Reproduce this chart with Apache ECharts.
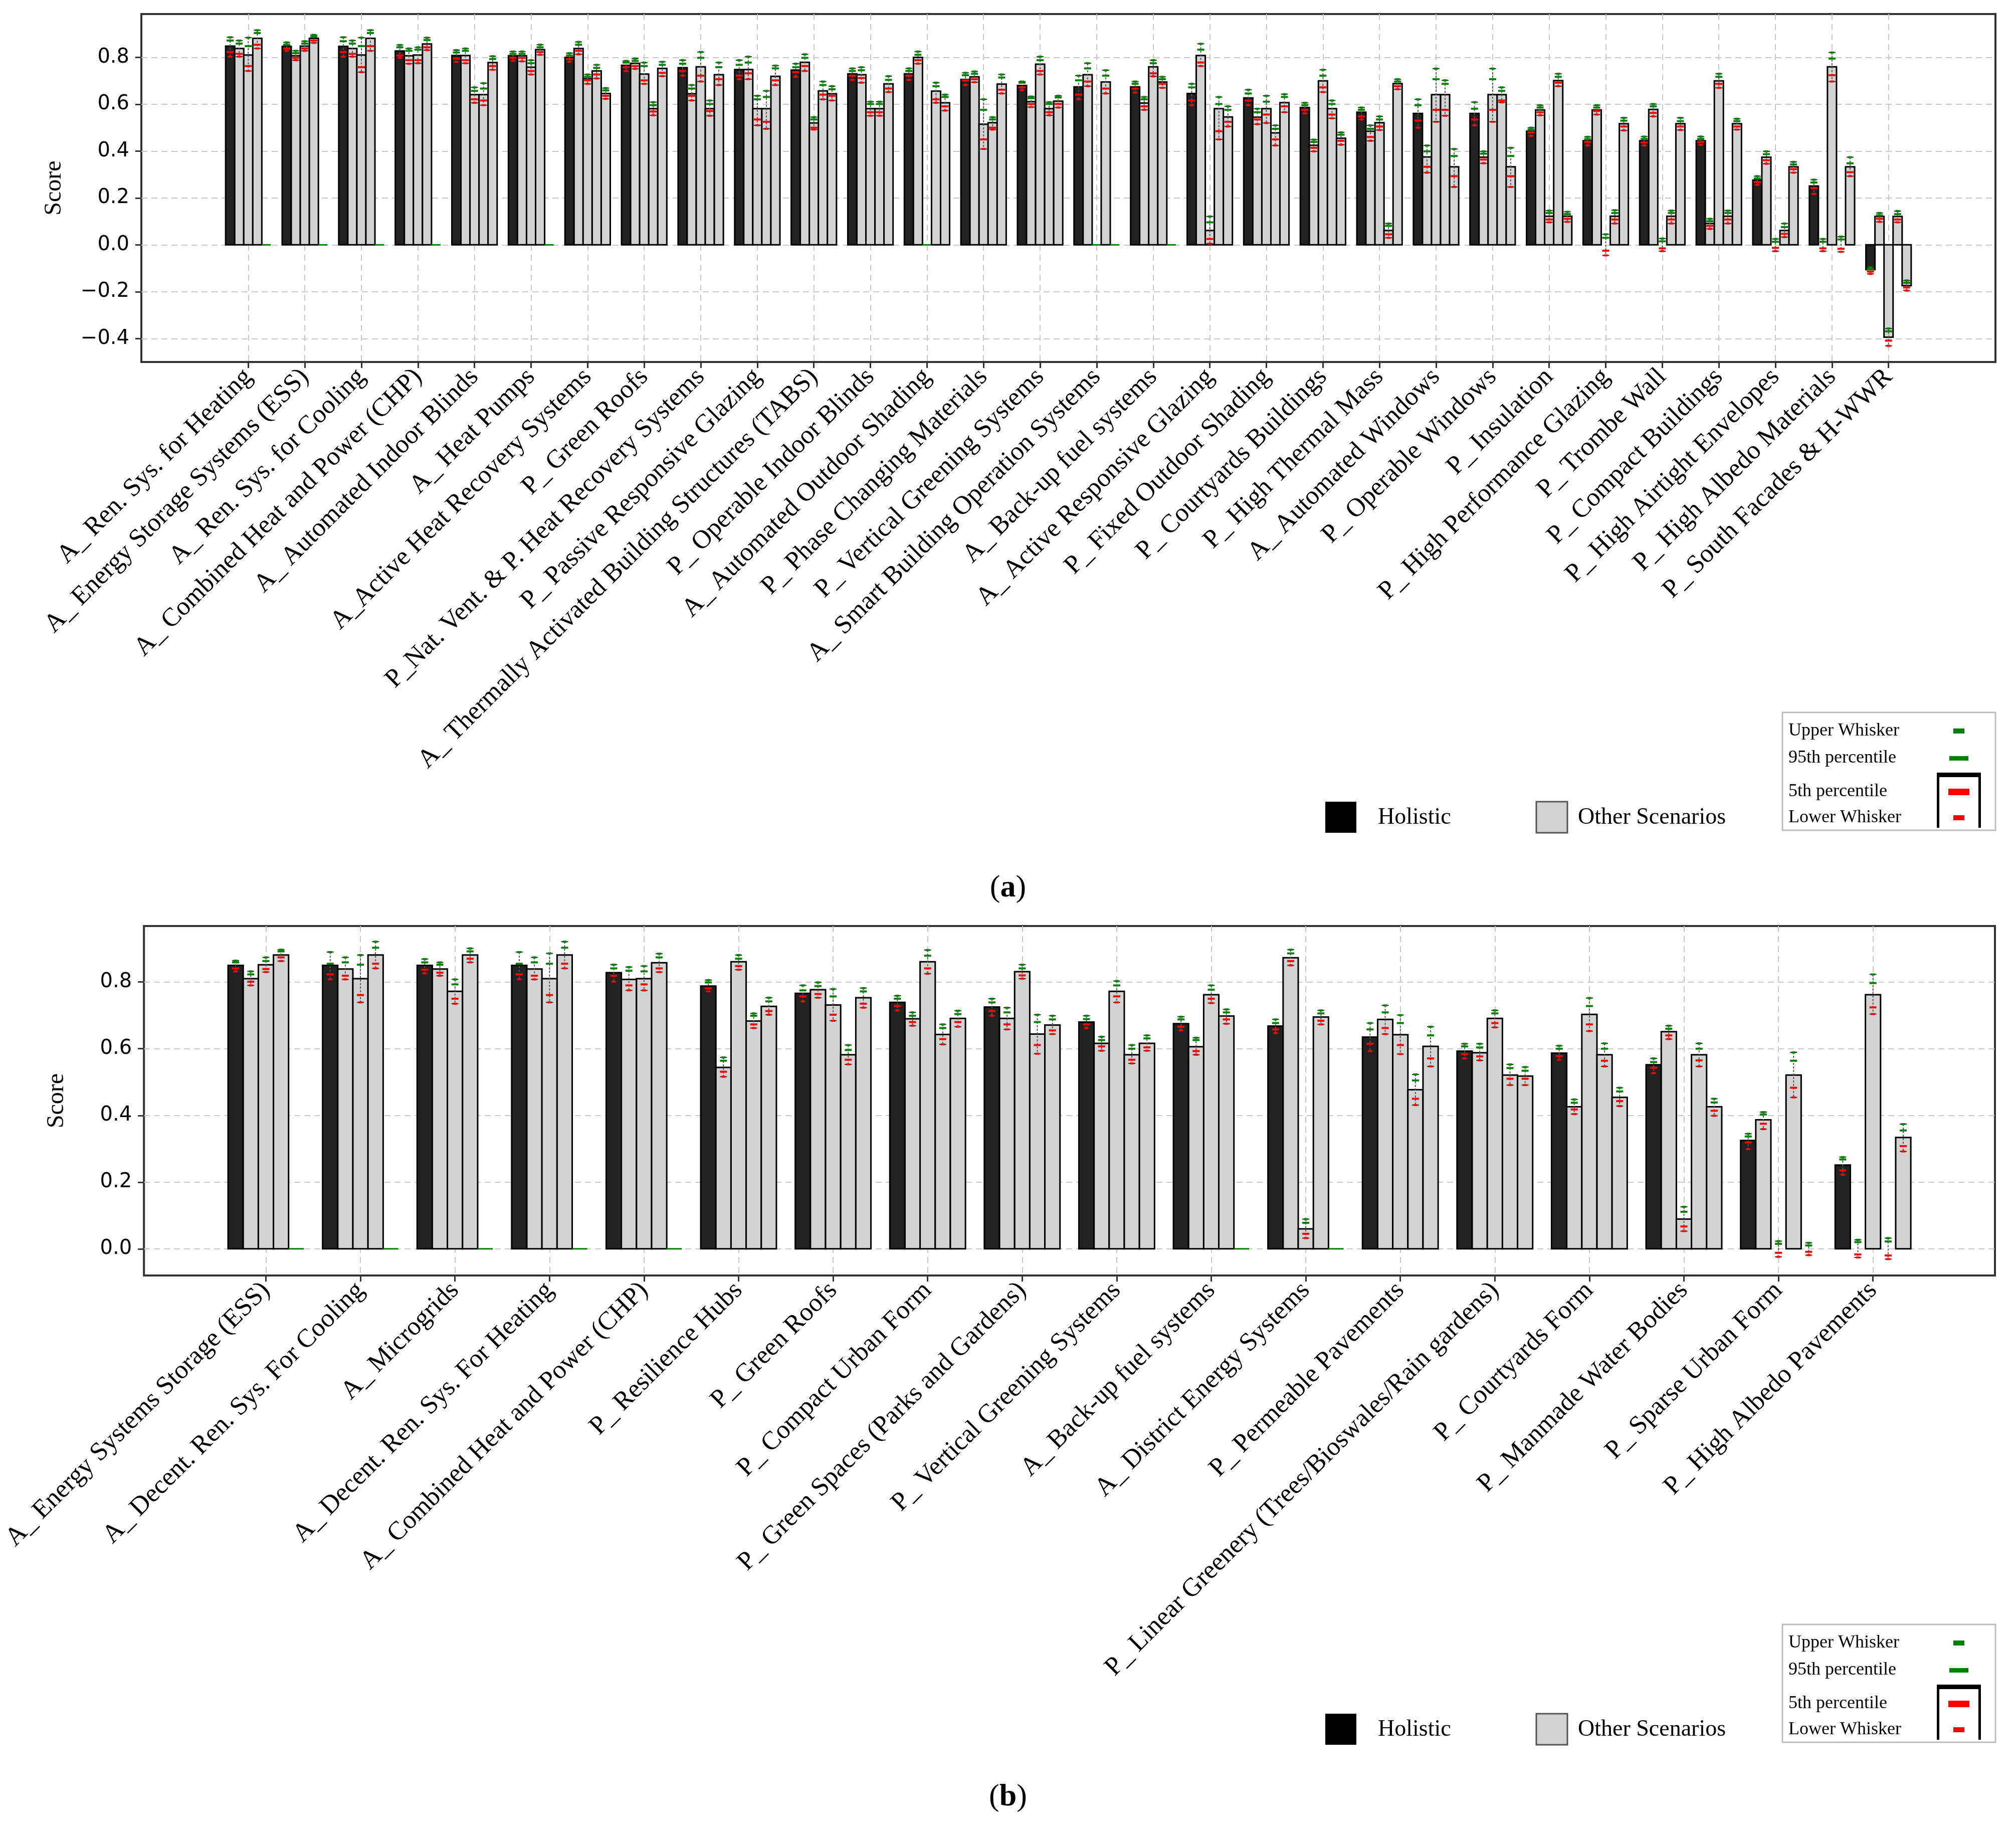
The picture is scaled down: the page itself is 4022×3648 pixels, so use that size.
<!DOCTYPE html>
<html><head><meta charset="utf-8">
<script src="https://cdn.jsdelivr.net/npm/echarts@6/dist/echarts.min.js"></script>
<style>html,body{margin:0;padding:0;background:#fff}#c{width:4022px;height:3648px}</style>
</head><body><div id="c"></div>
<script>
// ---------------- Panel (a) data ----------------
const categoriesA = ['A_ Ren. Sys. for Heating','A_ Energy Storage Systems (ESS)','A_ Ren. Sys. for Cooling','A_ Combined Heat and Power (CHP)','A_ Automated Indoor Blinds','A_ Heat Pumps','A_Active Heat Recovery Systems','P_ Green Roofs','P_Nat. Vent. & P. Heat Recovery Systems','P_ Passive Responsive Glazing','A_ Thermally Activated Building Structures (TABS)','P_ Operable Indoor Blinds','A_ Automated Outdoor Shading','P_ Phase Changing Materials','P_ Vertical Greening Systems','A_ Smart Building Operation Systems','A_ Back-up fuel systems','A_ Active Responsive Glazing','P_ Fixed Outdoor Shading','P_ Courtyards Buildings','P_ High Thermal Mass','A_ Automated Windows','P_ Operable Windows','P_ Insulation','P_ High Performance Glazing','P_ Trombe Wall','P_ Compact Buildings','P_ High Airtight Envelopes','P_ High Albedo Materials','P_ South Facades & H-WWR'];
const holisticA = [0.848,0.847,0.847,0.827,0.808,0.807,0.800,0.766,0.756,0.748,0.746,0.730,0.730,0.706,0.680,0.674,0.674,0.646,0.627,0.586,0.566,0.561,0.561,0.485,0.444,0.444,0.444,0.276,0.251,-0.106];
const otherA1 = [0.838,0.807,0.838,0.807,0.808,0.807,0.838,0.775,0.645,0.748,0.779,0.726,0.800,0.717,0.611,0.726,0.605,0.808,0.545,0.425,0.485,0.375,0.374,0.576,0.576,0.578,0.091,0.374,0,0.121];
const otherA2 = [0.810,0.848,0.810,0.810,0.641,0.758,0.709,0.729,0.760,0.581,0.520,0.581,null,0.515,0.771,null,0.760,0.061,0.581,0.700,0.521,0.641,0.641,0.122,0,0,0.700,0,0.760,-0.394];
const otherA3 = [0.881,0.881,0.881,0.857,0.641,0.833,0.742,0.581,0.581,0.581,0.657,0.581,0.656,0.521,0.581,0.695,0.695,0.581,0.478,0.581,0.061,0.641,0.641,0.701,0.122,0.122,0.122,0.061,0,0.121];
const otherA4 = [null,null,null,null,0.778,null,0.646,0.753,0.726,0.719,0.645,0.687,0.606,0.686,0.613,null,null,0.546,0.607,0.455,0.688,0.333,0.333,0.122,0.517,0.517,0.517,0.333,0.333,-0.174];
// [upper whisker, 95th pct, 5th pct, lower whisker]
const whiskHolisticA = [[0.886,0.872,0.823,0.803],[0.864,0.854,0.838,0.828],[0.886,0.869,0.823,0.803],[0.853,0.843,0.808,0.798],[0.831,0.821,0.795,0.781],[0.825,0.815,0.798,0.785],[0.818,0.808,0.793,0.781],[0.785,0.778,0.758,0.742],[0.788,0.773,0.742,0.722],[0.788,0.768,0.722,0.707],[0.773,0.758,0.737,0.717],[0.753,0.742,0.722,0.704],[0.753,0.742,0.722,0.704],[0.734,0.724,0.702,0.682],[0.697,0.692,0.672,0.660],[0.722,0.702,0.641,0.621],[0.697,0.687,0.667,0.650],[0.687,0.672,0.616,0.596],[0.662,0.646,0.616,0.596],[0.606,0.596,0.576,0.561],[0.586,0.576,0.548,0.535],[0.621,0.596,0.530,0.500],[0.609,0.581,0.535,0.510],[0.500,0.492,0.480,0.465],[0.461,0.451,0.439,0.424],[0.462,0.452,0.437,0.424],[0.462,0.452,0.439,0.427],[0.293,0.283,0.268,0.256],[0.278,0.266,0.242,0.217],[-0.096,-0.104,-0.114,-0.124]];
const whiskOtherA1 = [[0.872,0.859,0.815,0.803],[0.828,0.818,0.798,0.788],[0.872,0.859,0.815,0.803],[0.838,0.828,0.788,0.773],[0.838,0.828,0.788,0.775],[0.825,0.815,0.798,0.783],[0.866,0.854,0.828,0.813],[0.795,0.785,0.763,0.751],[0.682,0.667,0.636,0.616],[0.803,0.778,0.732,0.707],[0.813,0.798,0.763,0.742],[0.758,0.745,0.712,0.692],[0.825,0.811,0.788,0.773],[0.740,0.730,0.707,0.694],[0.633,0.626,0.601,0.588],[0.775,0.753,0.697,0.677],[0.631,0.621,0.591,0.576],[0.858,0.833,0.778,0.763],[0.581,0.566,0.535,0.515],[0.449,0.439,0.414,0.399],[0.510,0.495,0.460,0.444],[0.424,0.399,0.333,0.308],[0.399,0.389,0.364,0.348],[0.596,0.586,0.566,0.553],[0.596,0.586,0.571,0.556],[0.601,0.591,0.563,0.548],[0.111,0.101,0.081,0.068],[0.399,0.387,0.361,0.346],[0.025,0.013,-0.015,-0.027],[0.136,0.126,0.111,0.098]];
const whiskOtherA2 = [[0.884,0.848,0.763,0.742],[0.869,0.859,0.838,0.828],[0.884,0.848,0.758,0.737],[0.843,0.833,0.788,0.775],[0.672,0.657,0.621,0.606],[0.788,0.775,0.742,0.727],[0.727,0.717,0.702,0.687],[0.778,0.763,0.702,0.687],[0.823,0.798,0.722,0.697],[0.636,0.621,0.535,0.510],[0.545,0.535,0.500,0.492],[0.611,0.601,0.566,0.551],null,[0.621,0.576,0.450,0.409],[0.803,0.788,0.742,0.727],null,[0.788,0.775,0.732,0.719],[0.121,0.096,0.025,0.005],[0.636,0.611,0.556,0.520],[0.747,0.722,0.672,0.652],[0.548,0.535,0.505,0.490],[0.752,0.707,0.576,0.525],[0.752,0.707,0.576,0.525],[0.146,0.136,0.108,0.096],[0.045,0.030,-0.025,-0.045],[0.027,0.015,-0.015,-0.027],[0.730,0.717,0.687,0.670],[0.025,0.013,-0.013,-0.027],[0.821,0.795,0.724,0.697],[-0.357,-0.369,-0.409,-0.431]];
const whiskOtherA3 = [[0.916,0.904,0.854,0.838],[0.896,0.889,0.872,0.862],[0.916,0.904,0.848,0.828],[0.884,0.874,0.843,0.831],[0.690,0.667,0.616,0.596],[0.854,0.843,0.823,0.811],[0.768,0.755,0.727,0.710],[0.609,0.596,0.569,0.553],[0.616,0.601,0.571,0.551],[0.657,0.631,0.525,0.495],[0.697,0.682,0.641,0.621],[0.611,0.601,0.566,0.551],[0.692,0.677,0.621,0.606],[0.545,0.535,0.500,0.492],[0.609,0.601,0.566,0.553],[0.745,0.722,0.667,0.646],[0.717,0.707,0.687,0.670],[0.631,0.601,0.485,0.450],[0.510,0.495,0.450,0.424],[0.616,0.601,0.556,0.540],[0.091,0.081,0.045,0.030],[0.702,0.687,0.576,0.551],[0.672,0.657,0.616,0.608],[0.730,0.717,0.692,0.677],[0.148,0.136,0.108,0.091],[0.146,0.136,0.108,0.091],[0.146,0.136,0.108,0.091],[0.091,0.076,0.047,0.033],[0.035,0.023,-0.017,-0.030],[0.144,0.131,0.108,0.096]];
const whiskOtherA4 = [null,null,null,null,[0.805,0.793,0.763,0.747],null,[0.669,0.659,0.636,0.623],[0.781,0.768,0.734,0.720],[0.778,0.758,0.707,0.682],[0.765,0.753,0.702,0.682],[0.677,0.664,0.636,0.616],[0.720,0.704,0.667,0.652],[0.641,0.631,0.591,0.573],[0.727,0.714,0.662,0.646],[0.636,0.629,0.601,0.586],null,null,[0.591,0.576,0.525,0.505],[0.643,0.631,0.591,0.566],[0.480,0.470,0.444,0.427],[0.707,0.697,0.677,0.664],[0.409,0.379,0.293,0.247],[0.414,0.379,0.293,0.247],[0.141,0.131,0.111,0.098],[0.542,0.530,0.505,0.488],[0.542,0.528,0.505,0.490],[0.538,0.528,0.505,0.492],[0.354,0.343,0.323,0.308],[0.374,0.348,0.310,0.293],[-0.152,-0.162,-0.182,-0.195]];
const yTicksA = [-0.4,-0.2,0.0,0.2,0.4,0.6,0.8];

// ---------------- Panel (b) data ----------------
const categoriesB = ['A_ Energy Systems Storage (ESS)','A_ Decent. Ren. Sys. For Cooling','A_ Microgrids','A_ Decent. Ren. Sys. For Heating','A_ Combined Heat and Power (CHP)','P_ Resilience Hubs','P_ Green Roofs','P_ Compact Urban Form','P_ Green Spaces (Parks and Gardens)','P_ Vertical Greening Systems','A_ Back-up fuel systems','A_ District Energy Systems','P_ Permeable Pavements','P_ Linear Greenery (Trees/Bioswales/Rain gardens)','P_ Courtyards Form','P_ Manmade Water Bodies','P_ Sparse Urban Form','P_ High Albedo Pavements'];
const holisticB = [0.850,0.850,0.850,0.850,0.828,0.788,0.766,0.739,0.725,0.680,0.675,0.668,0.635,0.593,0.587,0.552,0.325,0.251];
const otherB1 = [0.810,0.839,0.839,0.839,0.808,0.544,0.777,0.690,0.691,0.616,0.606,0.873,0.688,0.588,0.426,0.651,0.387,0];
const otherB2 = [0.852,0.810,0.772,0.810,0.810,0.861,0.731,0.861,0.831,0.772,0.762,0.060,0.642,0.691,0.703,0.089,0,0.762];
const otherB3 = [0.881,0.881,0.881,0.881,0.858,0.683,0.582,0.643,0.644,0.582,0.698,0.695,0.477,0.521,0.582,0.582,0.521,0];
const otherB4 = [null,null,null,null,null,0.727,0.753,0.691,0.671,0.616,null,null,0.607,0.518,0.454,0.426,0,0.334];
const whiskHolisticB = [[0.864,0.859,0.841,0.832],[0.890,0.855,0.823,0.808],[0.869,0.859,0.837,0.826],[0.890,0.855,0.823,0.808],[0.852,0.841,0.819,0.801],[0.806,0.799,0.781,0.772],[0.790,0.775,0.757,0.742],[0.759,0.750,0.728,0.715],[0.750,0.739,0.713,0.699],[0.699,0.689,0.673,0.662],[0.696,0.688,0.666,0.655],[0.688,0.677,0.658,0.647],[0.677,0.658,0.615,0.593],[0.615,0.607,0.584,0.571],[0.609,0.600,0.578,0.567],[0.571,0.560,0.543,0.527],[0.345,0.337,0.319,0.299],[0.275,0.268,0.235,0.222]];
const whiskOtherB1 = [[0.832,0.823,0.801,0.790],[0.874,0.859,0.819,0.808],[0.859,0.852,0.828,0.819],[0.874,0.859,0.819,0.808],[0.845,0.834,0.790,0.775],[0.574,0.564,0.531,0.516],[0.799,0.788,0.764,0.753],[0.709,0.699,0.680,0.669],[0.723,0.709,0.673,0.658],[0.636,0.626,0.607,0.594],[0.633,0.626,0.593,0.582],[0.897,0.886,0.863,0.850],[0.730,0.709,0.662,0.644],[0.615,0.604,0.577,0.565],[0.448,0.438,0.418,0.404],[0.669,0.660,0.640,0.629],[0.410,0.403,0.375,0.359],[0.027,0.020,-0.017,-0.026]];
const whiskOtherB2 = [[0.874,0.863,0.839,0.830],[0.881,0.852,0.761,0.739],[0.808,0.793,0.750,0.735],[0.886,0.855,0.761,0.739],[0.848,0.832,0.793,0.775],[0.881,0.870,0.848,0.837],[0.779,0.757,0.702,0.684],[0.896,0.879,0.841,0.825],[0.852,0.841,0.820,0.810],[0.803,0.790,0.757,0.739],[0.790,0.777,0.750,0.737],[0.089,0.078,0.045,0.032],[0.701,0.677,0.611,0.584],[0.715,0.706,0.677,0.664],[0.752,0.728,0.673,0.653],[0.126,0.111,0.067,0.053],[0.023,0.015,-0.012,-0.024],[0.823,0.797,0.724,0.704]];
const whiskOtherB3 = [[0.897,0.892,0.874,0.863],[0.921,0.903,0.855,0.841],[0.901,0.892,0.870,0.859],[0.921,0.903,0.855,0.841],[0.885,0.874,0.841,0.830],[0.706,0.699,0.673,0.662],[0.611,0.596,0.567,0.553],[0.673,0.662,0.629,0.613],[0.702,0.680,0.611,0.585],[0.611,0.600,0.567,0.556],[0.718,0.709,0.688,0.675],[0.715,0.706,0.684,0.673],[0.523,0.505,0.450,0.431],[0.553,0.542,0.510,0.491],[0.616,0.600,0.564,0.547],[0.616,0.600,0.565,0.547],[0.589,0.564,0.483,0.454],[0.032,0.022,-0.020,-0.031]];
const whiskOtherB4 = [null,null,null,null,null,[0.753,0.742,0.713,0.702],[0.782,0.772,0.735,0.723],[0.714,0.704,0.680,0.666],[0.699,0.688,0.655,0.644],[0.640,0.631,0.604,0.594],null,null,[0.666,0.640,0.571,0.547],[0.545,0.534,0.510,0.491],[0.483,0.472,0.443,0.428],[0.450,0.439,0.414,0.399],[0.018,0.010,-0.009,-0.019],[0.374,0.355,0.308,0.292]];
const yTicksB = [0.0,0.2,0.4,0.6,0.8];

// ---------------- styling / layout ----------------
const FONT = '"Liberation Serif", "Times New Roman", serif';
const SANS = '"DejaVu Sans", sans-serif';
const GREEN = '#008000', RED = '#ff0000';
const SLOT = 0.16;              // width of one bar in category units (5 bars = 0.8)
const HOLI_FILL = '#222222', OTHER_FILL = '#d3d3d3';

function xPad(n) { return 0.4 + 0.05 * (n - 1 + 0.8); } // matplotlib-like 5% margins

function barSeries(xi, yi, vals, whisk, slot, fill) {
  const data = vals.map((v, i) => {
    const e = whisk[i];
    return (v == null) ? [i, 0, 1, 0, 0, 0, 0] : [i, v, 0, e[0], e[1], e[2], e[3]];
  });
  return {
    type: 'custom', xAxisIndex: xi, yAxisIndex: yi, data: data,
    encode: { x: 0, y: 1 }, z: 3, silent: true,
    renderItem: function (params, api) {
      const i = api.value(0), v = api.value(1), isNull = api.value(2);
      const xc = i + (slot - 2) * SLOT;
      const base = api.coord([xc, 0]);
      const top = api.coord([xc, v]);
      const w = api.size([SLOT, 0])[0];
      const cx = base[0];
      const ch = [];
      if (isNull) {
        ch.push({ type: 'line', shape: { x1: cx - w / 2, y1: base[1], x2: cx + w / 2, y2: base[1] }, style: { stroke: GREEN, lineWidth: 3 } });
        return { type: 'group', children: ch };
      }
      const h = top[1] - base[1];
      if (Math.abs(h) > 0.5) {
        ch.push({ type: 'rect', shape: { x: cx - w / 2, y: Math.min(base[1], top[1]), width: w, height: Math.abs(h) }, style: { fill: fill, stroke: '#000', lineWidth: 3 } });
      }
      const yu = api.coord([xc, api.value(3)])[1];
      const y95 = api.coord([xc, api.value(4)])[1];
      const y5 = api.coord([xc, api.value(5)])[1];
      const yl = api.coord([xc, api.value(6)])[1];
      const mk = (y, half, color, lw) => ({ type: 'line', shape: { x1: cx - half, y1: y, x2: cx + half, y2: y }, style: { stroke: color, lineWidth: lw } });
      ch.push({ type: 'line', shape: { x1: cx, y1: yu, x2: cx, y2: yl }, style: { stroke: '#555', lineWidth: 2, lineDash: [4, 3] } });
      ch.push(mk(yu, 7, '#333', 2), mk(yl, 7, '#333', 2));
      ch.push(mk(yu, 4, GREEN, 4), mk(y95, 7, GREEN, 4), mk(y5, 7, RED, 4), mk(yl, 4, RED, 4));
      return { type: 'group', children: ch };
    }
  };
}

const gridLine = { show: true, lineStyle: { color: '#c8c8c8', type: [12, 8], width: 2 } };
function fmtY(v) { const s = Math.abs(v).toFixed(1); return v < -1e-9 ? '\u2212' + s : s; }

function xAxisFor(gi, cats) {
  const n = cats.length, p = xPad(n), idx = cats.map((c, i) => i);
  return {
    gridIndex: gi, type: 'value', min: -p, max: n - 1 + p,
    axisLine: { show: false, onZero: false },
    axisTick: { show: true, inside: false, length: 12, customValues: idx, lineStyle: { color: '#333', width: 3 } },
    axisLabel: { customValues: idx, rotate: 45, margin: 22, formatter: v => cats[Math.round(v)], fontSize: 52, fontFamily: FONT, color: '#000' },
    splitLine: gridLine
  };
}
function yAxisFor(gi, ymin, ymax, ticks) {
  return {
    gridIndex: gi, type: 'value', min: ymin, max: ymax,
    name: 'Score', nameLocation: 'middle', nameRotate: 90, nameGap: 150,
    nameTextStyle: { fontSize: 48, fontFamily: FONT, color: '#000' },
    axisLine: { show: false, onZero: false },
    axisTick: { show: true, inside: false, length: 12, customValues: ticks, lineStyle: { color: '#333', width: 3 } },
    axisLabel: { customValues: ticks, formatter: fmtY, margin: 24, fontSize: 40, fontFamily: SANS, color: '#000' },
    splitLine: gridLine
  };
}

function legendGraphics(dy) {
  const t = (x, y, text, size) => ({ type: 'text', x: x, y: y + dy, style: { text: text, fontSize: size, fontFamily: FONT, fill: '#000', verticalAlign: 'middle', textVerticalAlign: 'middle' } });
  const r = (x, y, w, h, fill, stroke, lw) => ({ type: 'rect', shape: { x: x, y: y + dy, width: w, height: h }, style: { fill: fill, stroke: stroke || null, lineWidth: lw || 0 } });
  return [
    r(2644, 1599, 62, 62, '#000'),
    t(2749, 1631, 'Holistic', 46),
    r(3065, 1599, 62, 62, '#d3d3d3', '#555', 3),
    t(3148, 1631, 'Other Scenarios', 46),
    r(3556, 1421, 425, 235, '#fff', '#bdbdbd', 3),
    t(3568, 1458, 'Upper Whisker', 36),
    t(3568, 1512, '95th percentile', 36),
    t(3568, 1579, '5th percentile', 36),
    t(3568, 1631, 'Lower Whisker', 36),
    r(3897, 1453, 22, 10, GREEN),
    r(3889, 1508, 38, 9, GREEN),
    r(3887, 1573, 42, 13, RED),
    r(3897, 1626, 22, 10, RED),
    r(3864, 1541, 88, 9, '#000'),
    r(3864, 1541, 5, 110, '#000'),
    r(3947, 1541, 5, 110, '#000')
  ];
}
function panelLabel(letter, y) {
  return { type: 'text', x: 2011, y: y, style: { text: '{n|(}{b|' + letter + '}{n|)}', align: 'center', verticalAlign: 'middle', textAlign: 'center', textVerticalAlign: 'middle',
    rich: { n: { fontSize: 62, fontFamily: FONT, fill: '#000' }, b: { fontSize: 62, fontFamily: FONT, fontWeight: 'bold', fill: '#000' } } } };
}

const chart = echarts.init(document.getElementById('c'), null, { renderer: 'canvas' });
chart.setOption({
  backgroundColor: '#fff',
  animation: false,
  grid: [
    { left: 282, top: 28, width: 3699, height: 694, show: true, borderColor: '#333', borderWidth: 4, containLabel: false },
    { left: 285, top: 1847, width: 3695, height: 697, show: true, borderColor: '#333', borderWidth: 4, containLabel: false }
  ],
  xAxis: [xAxisFor(0, categoriesA), xAxisFor(1, categoriesB)],
  yAxis: [yAxisFor(0, -0.5, 0.985, yTicksA), yAxisFor(1, -0.08, 0.968, yTicksB)],
  series: [
    barSeries(0, 0, holisticA, whiskHolisticA, 0, HOLI_FILL),
    barSeries(0, 0, otherA1, whiskOtherA1, 1, OTHER_FILL),
    barSeries(0, 0, otherA2, whiskOtherA2, 2, OTHER_FILL),
    barSeries(0, 0, otherA3, whiskOtherA3, 3, OTHER_FILL),
    barSeries(0, 0, otherA4, whiskOtherA4, 4, OTHER_FILL),
    barSeries(1, 1, holisticB, whiskHolisticB, 0, HOLI_FILL),
    barSeries(1, 1, otherB1, whiskOtherB1, 1, OTHER_FILL),
    barSeries(1, 1, otherB2, whiskOtherB2, 2, OTHER_FILL),
    barSeries(1, 1, otherB3, whiskOtherB3, 3, OTHER_FILL),
    barSeries(1, 1, otherB4, whiskOtherB4, 4, OTHER_FILL)
  ],
  graphic: legendGraphics(0).concat(legendGraphics(1819)).concat([panelLabel('a', 1772), panelLabel('b', 3585)])
});
</script></body></html>
